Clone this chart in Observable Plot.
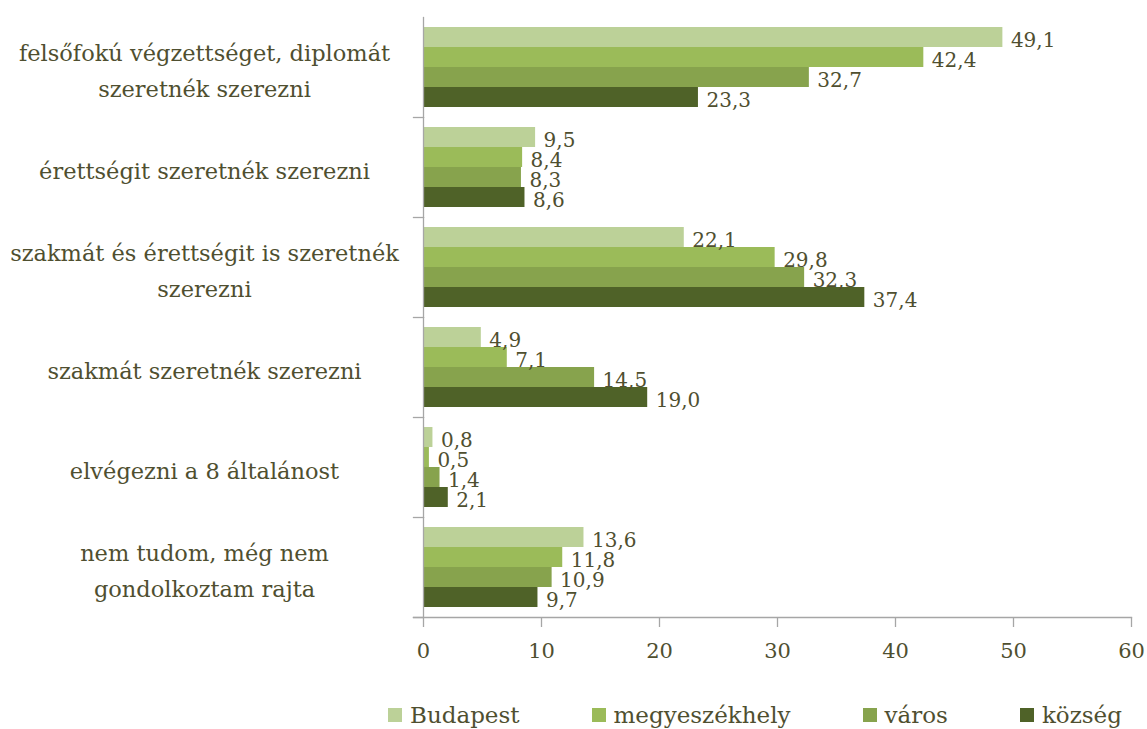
<!DOCTYPE html>
<html>
<head>
<meta charset="utf-8">
<script src="https://cdn.jsdelivr.net/npm/d3@7"></script>
<script src="https://cdn.jsdelivr.net/npm/@observablehq/plot@0.6"></script>
<style>
  html, body { margin: 0; padding: 0; background: #fff; }
  #chart { position: relative; width: 1147px; }
  .legend { display: flex; align-items: center; gap: 72px; padding-left: 388px; height: 30px; margin-top: 20px;
            font-family: "DejaVu Serif", serif; font-size: 23px; color: #4f4f30; }
  .legend .item { display: flex; align-items: center; gap: 8px; }
  .legend .sw { width: 14px; height: 14px; display: inline-block; }
</style>
</head>
<body>
<div id="chart"></div>
<script>
const categories = [
  "felsőfokú végzettséget, diplomát\nszeretnék szerezni",
  "érettségit szeretnék szerezni",
  "szakmát és érettségit is szeretnék\nszerezni",
  "szakmát szeretnék szerezni",
  "elvégezni a 8 általánost",
  "nem tudom, még nem\ngondolkoztam rajta"
];
const series = ["Budapest", "megyeszékhely", "város", "község"];
const budapest      = [49.1, 9.5, 22.1, 4.9, 0.8, 13.6];
const megyeszekhely = [42.4, 8.4, 29.8, 7.1, 0.5, 11.8];
const varos         = [32.7, 8.3, 32.3, 14.5, 1.4, 10.9];
const kozseg        = [23.3, 8.6, 37.4, 19.0, 2.1, 9.7];
const colors = ["#bcd198", "#9bbb59", "#87a34d", "#4f6228"];
const xTicks = [0, 10, 20, 30, 40, 50, 60];

const seriesValues = [budapest, megyeszekhely, varos, kozseg];
const data = [];
categories.forEach((c, i) => series.forEach((s, j) => data.push({cat: c, series: s, value: seriesValues[j][i]})));

const textColor = "#4f4f30";
const axisColor = "#a6a6a6";
const fmt = v => v.toFixed(1).replace(".", ",");

const plot = Plot.plot({
  width: 1147,
  height: 680,
  marginLeft: 423,
  marginRight: 16,
  marginTop: 15,
  marginBottom: 62,
  style: {fontFamily: "DejaVu Serif, serif", background: "#fff"},
  fy: {domain: categories, padding: 0, axis: null},
  y: {domain: series, paddingInner: 0, paddingOuter: 0.5, axis: null},
  x: {domain: [0, 60]},
  color: {domain: series, range: colors},
  marks: [
    Plot.barX(data, {fy: "cat", y: "series", x: "value", fill: "series"}),
    Plot.text(data, {fy: "cat", y: "series", x: "value", text: d => fmt(d.value),
      textAnchor: "start", dx: 8, dy: 3, fontSize: 20, fill: textColor}),
    Plot.text(categories, {fy: d => d, text: d => d, frameAnchor: "left", dx: -219,
      textAnchor: "middle", lineHeight: 1.6, fontSize: 22.5, fill: textColor}),
    Plot.frame({anchor: "left", stroke: axisColor, strokeWidth: 1.3}),
    Plot.frame({anchor: "bottom", insetLeft: -10, insetRight: 708, stroke: axisColor, strokeWidth: 1.3}),
    Plot.frame({anchor: "bottom", insetLeft: -10, facetAnchor: "bottom", stroke: axisColor, strokeWidth: 1.3}),
    Plot.axisX({ticks: xTicks, tickSize: 10, tickPadding: 16, stroke: axisColor, strokeWidth: 1.3,
      fontSize: 21, fill: textColor, label: null})
  ]
});
document.getElementById("chart").appendChild(plot);

const legend = document.createElement("div");
legend.className = "legend";
series.forEach((s, j) => {
  const item = document.createElement("div");
  item.className = "item";
  const sw = document.createElement("span");
  sw.className = "sw";
  sw.style.background = colors[j];
  const t = document.createElement("span");
  t.textContent = s;
  item.appendChild(sw);
  item.appendChild(t);
  legend.appendChild(item);
});
document.getElementById("chart").appendChild(legend);
</script>
</body>
</html>
